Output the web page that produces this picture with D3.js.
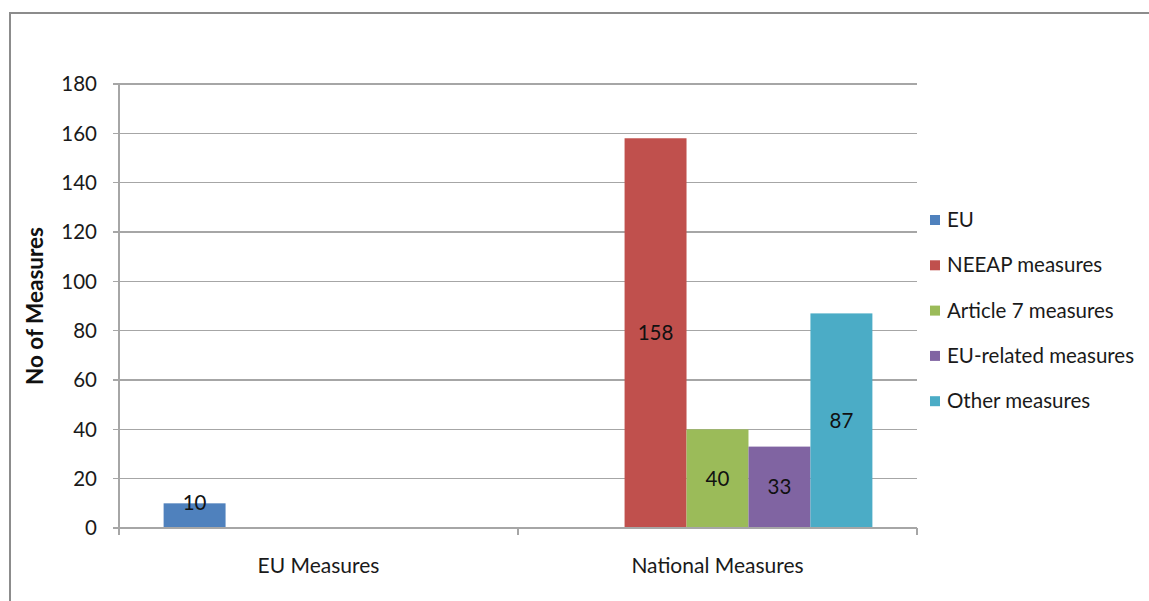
<!DOCTYPE html>
<html><head><meta charset="utf-8">
<script src="https://cdn.jsdelivr.net/npm/d3@7"></script>
<style>body{margin:0;background:#fff}svg{display:block}</style>
</head><body>
<svg id="c" width="1149" height="601"></svg>
<script>
const categories = ["EU Measures", "National Measures"];
const seriesNames = ["EU", "NEEAP measures", "Article 7 measures", "EU-related measures", "Other measures"];
const seriesColors = ["#4F81BD", "#C0504D", "#9BBB59", "#8064A2", "#4BACC6"];
const euValues = [10, null];
const neeapValues = [null, 158];
const article7Values = [null, 40];
const euRelatedValues = [null, 33];
const otherValues = [null, 87];
const yTicks = [0, 20, 40, 60, 80, 100, 120, 140, 160, 180];
const seriesValues = [euValues, neeapValues, article7Values, euRelatedValues, otherValues];

const svg = d3.select("#c");
const font = "Lato, 'Open Sans', sans-serif";
// outer border
svg.append("rect").attr("x", 10).attr("y", 13).attr("width", 1160).attr("height", 620)
  .attr("fill", "none").attr("stroke", "#8c8c8c").attr("stroke-width", 2);

const L = 119, R = 917, T = 84, B = 528;
const x = d3.scaleBand().domain(categories).range([L, R]);
const xs = d3.scaleBand().domain(d3.range(seriesNames.length)).range([0, x.bandwidth()]).paddingOuter(0.72).paddingInner(0);
const y = d3.scaleLinear().domain([0, 180]).range([B, T]);

// gridlines
svg.append("g").selectAll("line").data(yTicks).join("line")
  .attr("x1", L - 6).attr("x2", R).attr("y1", d => y(d)).attr("y2", d => y(d))
  .attr("stroke", "#a6a6a6").attr("stroke-width", 1.2).attr("shape-rendering", "crispEdges");

// y axis line
svg.append("line").attr("x1", L).attr("x2", L).attr("y1", T).attr("y2", B)
  .attr("stroke", "#a6a6a6").attr("stroke-width", 1.2).attr("shape-rendering", "crispEdges");

// y tick labels
svg.append("g").selectAll("text").data(yTicks).join("text")
  .attr("x", L - 22).attr("y", d => y(d)).attr("dy", "0.35em").attr("text-anchor", "end")
  .attr("font-family", font).attr("font-size", 20.5).attr("fill", "#1a1a1a").text(d => d);

// bars
seriesValues.forEach((vals, si) => {
  const g = svg.append("g");
  categories.forEach((cat, ci) => {
    const v = vals[ci];
    if (v == null) return;
    const bx = x(cat) + xs(si);
    g.append("rect").attr("x", bx).attr("y", y(v)).attr("width", xs.bandwidth()).attr("height", y(0) - y(v))
      .attr("fill", seriesColors[si]);
    const ly = Math.min((y(v) + y(0)) / 2, y(0) - 25);
    g.append("text").attr("x", bx + xs.bandwidth() / 2).attr("y", ly).attr("dy", "0.35em")
      .attr("text-anchor", "middle").attr("font-family", font).attr("font-size", 20.5).attr("fill", "#111").text(v);
  });
});

// x axis line and ticks
svg.append("line").attr("x1", L).attr("x2", R).attr("y1", B).attr("y2", B)
  .attr("stroke", "#a6a6a6").attr("stroke-width", 1.2).attr("shape-rendering", "crispEdges");
const xTickPos = [L, ...categories.map(c => x(c) + x.bandwidth())];
svg.append("g").selectAll("line").data(xTickPos).join("line")
  .attr("x1", d => d).attr("x2", d => d).attr("y1", B).attr("y2", B + 7)
  .attr("stroke", "#a6a6a6").attr("stroke-width", 1.2).attr("shape-rendering", "crispEdges");
svg.append("g").selectAll("text").data(categories).join("text")
  .attr("x", d => x(d) + x.bandwidth() / 2).attr("y", 566).attr("dy", "0.35em").attr("text-anchor", "middle")
  .attr("font-family", font).attr("font-size", 21).attr("fill", "#1a1a1a").text(d => d);

// y axis title
svg.append("text").attr("transform", `translate(35,${(T + B) / 2}) rotate(-90)`).attr("dy", "0.35em")
  .attr("text-anchor", "middle").attr("font-family", font).attr("font-weight", "bold").attr("font-size", 22.5)
  .attr("fill", "#111").text("No of Measures");

// legend
const lg = svg.append("g");
seriesNames.forEach((n, i) => {
  const ly = 220 + i * 45.3;
  lg.append("rect").attr("x", 930).attr("y", ly - 5).attr("width", 10).attr("height", 10).attr("fill", seriesColors[i]);
  lg.append("text").attr("x", 947).attr("y", ly).attr("dy", "0.35em").attr("font-family", font)
    .attr("font-size", 20.5).attr("fill", "#1a1a1a").text(n);
});
</script>
</body></html>
